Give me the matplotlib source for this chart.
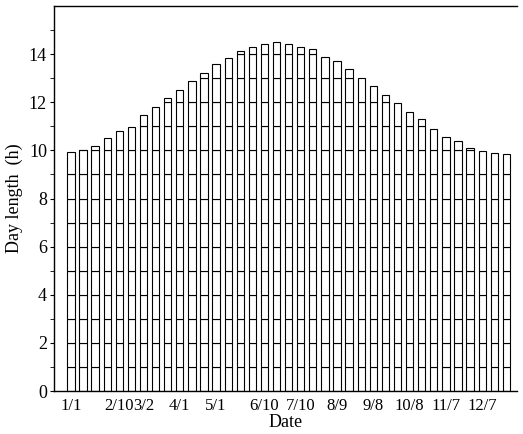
import matplotlib
matplotlib.use("Agg")
import matplotlib.pyplot as plt
import numpy as np

dates = ["1/1", "1/11", "1/21", "1/31", "2/10", "2/20", "3/2", "3/12", "3/22",
         "4/1", "4/11", "4/21", "5/1", "5/11", "5/21", "5/31", "6/10", "6/20",
         "6/30", "7/10", "7/20", "7/30", "8/9", "8/19", "8/29", "9/8", "9/18",
         "9/28", "10/8", "10/18", "10/28", "11/7", "11/17", "11/27", "12/7",
         "12/17", "12/27"]
day_length = [9.92, 10.01, 10.20, 10.51, 10.81, 10.97, 11.49, 11.79, 12.20,
              12.52, 12.90, 13.22, 13.60, 13.83, 14.13, 14.31, 14.42, 14.50,
              14.43, 14.29, 14.20, 13.90, 13.70, 13.39, 13.00, 12.68, 12.29,
              11.97, 11.58, 11.29, 10.89, 10.56, 10.38, 10.10, 9.99, 9.88, 9.86]
labeled_dates = ["1/1", "2/10", "3/2", "4/1", "5/1", "6/10", "7/10", "8/9",
                 "9/8", "10/8", "11/7", "12/7"]

plt.rcParams['font.family'] = ['Liberation Serif', 'DejaVu Serif']

fig = plt.figure(figsize=(5.23, 4.34), dpi=100)
ax = fig.add_axes([0.103, 0.099, 0.886, 0.887])

x = np.arange(len(dates))
w = 0.6
# stacked 1-hour segments
max_h = int(np.floor(max(day_length)))
for k in range(max_h + 1):
    idx = [i for i, v in enumerate(day_length) if v - k > 1e-6]
    seg = [min(1.0, day_length[i] - k) for i in idx]
    ax.bar(x[idx], seg, bottom=k, width=w, facecolor='white', edgecolor='black',
           linewidth=0.8)

ax.set_xlim(-1.41, 36.9)
ax.set_ylim(0, 16)
ax.set_yticks(np.arange(0, 15, 2))
ax.set_yticks(np.arange(1, 16, 2), minor=True)
tick_pos = [dates.index(d) for d in labeled_dates]
ax.set_xticks(tick_pos)
ax.set_xticklabels(labeled_dates)
ax.tick_params(axis='x', length=0, labelsize=12, pad=5)
ax.tick_params(axis='y', which='major', length=3, labelsize=13, direction='out', pad=2)
ax.tick_params(axis='y', which='minor', length=3, direction='out')
ax.spines['right'].set_visible(False)
for s in ['left', 'bottom', 'top']:
    ax.spines[s].set_linewidth(1.0)

ax.set_ylabel("Day length  (h)", fontsize=13, labelpad=4)
ax.set_xlabel("Date", fontsize=13, labelpad=0)

fig.savefig("out.png", dpi=100)
